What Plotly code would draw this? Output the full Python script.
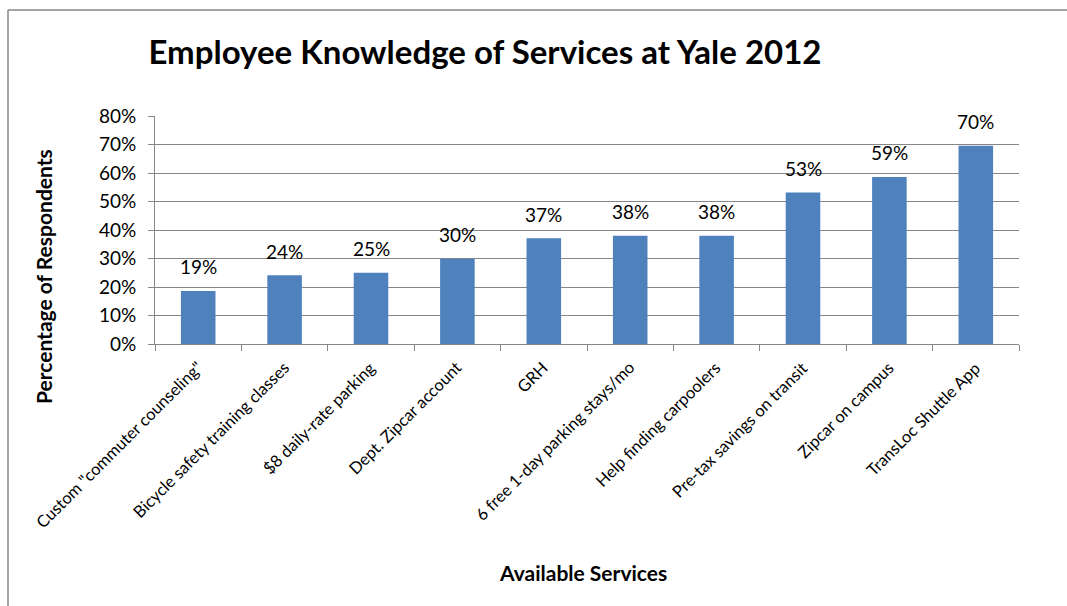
import plotly.graph_objects as go

categories = [
    'Custom "commuter counseling"',
    "Bicycle safety training classes",
    "$8 daily-rate parking",
    "Dept. Zipcar account",
    "GRH",
    "6 free 1-day parking stays/mo",
    "Help finding carpoolers",
    "Pre-tax savings on transit",
    "Zipcar on campus",
    "TransLoc Shuttle App",
]
values = [18.6, 24.1, 25.0, 29.9, 37.1, 38.0, 38.0, 53.2, 58.6, 69.6]
labels = ["19%", "24%", "25%", "30%", "37%", "38%", "38%", "53%", "59%", "70%"]
y_ticks = [0, 10, 20, 30, 40, 50, 60, 70, 80]
y_ticktext = [f"{v}%" for v in y_ticks]

FONT = "Lato"
W, H = 1067, 606
L, R, T, B = 155, 48, 116, 262
PW, PH = W - L - R, H - T - B

fig = go.Figure()
fig.add_trace(go.Bar(
    x=categories, y=values,
    marker=dict(color="#4F81BD", line=dict(width=0)),
    hoverinfo="skip",
))

# data labels
for i, (v, t) in enumerate(zip(values, labels)):
    fig.add_annotation(x=i, y=v, text=t, showarrow=False, yanchor="middle",
                       yshift=24, font=dict(family=FONT, size=19, color="black"))

# rotated category labels (Excel style: end of text at category centre)
for i, c in enumerate(categories):
    fig.add_annotation(x=i, y=0, yref="y", text=c, showarrow=False, textangle=-45,
                       xanchor="right", yanchor="top", xshift=11, yshift=-11,
                       font=dict(family=FONT, size=16.5, color="black"))

# axis titles
fig.add_annotation(x=(583 - L) / PW, xref="paper", y=1 - (572 - T) / PH, yref="paper",
                   text="<b>Available Services</b>", showarrow=False,
                   xanchor="center", yanchor="middle",
                   font=dict(family=FONT, size=21, color="black"))
fig.add_annotation(x=(43 - L) / PW, xref="paper", y=1 - (277 - T) / PH, yref="paper",
                   text="<b>Percentage of Respondents</b>", showarrow=False, textangle=-90,
                   xanchor="center", yanchor="middle",
                   font=dict(family=FONT, size=21, color="black"))

fig.update_layout(
    width=W, height=H,
    margin=dict(l=L, r=R, t=T, b=B),
    paper_bgcolor="white", plot_bgcolor="white",
    bargap=0.6,
    showlegend=False,
    title=dict(text="<b>Employee Knowledge of Services at Yale 2012</b>",
               x=485 / W, xanchor="center", xref="container", y=1 - 52 / H, yanchor="middle",
               font=dict(family=FONT, size=33, color="black")),
    xaxis=dict(
        type="category",
        categoryorder="array", categoryarray=categories,
        range=[-0.5, len(categories) - 0.5],
        tickson="boundaries",
        ticks="outside", ticklen=6, tickcolor="#868686", tickwidth=1,
        showticklabels=False,
        showline=True, linecolor="#868686", linewidth=1,
        showgrid=False,
    ),
    yaxis=dict(
        range=[0, 80],
        tickvals=y_ticks, ticktext=y_ticktext,
        ticks="outside", ticklen=6, tickcolor="#868686", tickwidth=1,
        ticklabelstandoff=8,
        showline=True, linecolor="#868686", linewidth=1,
        showgrid=True, gridcolor="#868686", gridwidth=1,
        tickfont=dict(family=FONT, size=19, color="black"),
        zeroline=False,
    ),
    shapes=[
        dict(type="line", xref="paper", yref="paper",
             x0=-147 / PW, x1=1.1, y0=1 + 106 / PH, y1=1 + 106 / PH,
             line=dict(color="#868686", width=1.5)),
        dict(type="line", xref="paper", yref="paper",
             x0=-147 / PW, x1=-147 / PW, y0=1 + 106 / PH, y1=-2,
             line=dict(color="#868686", width=1.5)),
    ],
)

fig.write_html("out.html")
